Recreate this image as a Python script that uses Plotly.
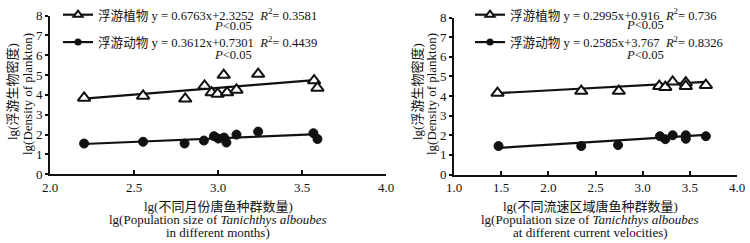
import plotly.graph_objects as go

# ---------------- data ----------------
# Left panel: different months
left_x_phyto = [2.203, 2.554, 2.805, 2.920, 2.962, 2.998, 3.034, 3.054, 3.110, 3.239, 3.572, 3.592]
left_y_phyto = [3.85, 3.95, 3.80, 4.45, 4.12, 4.05, 5.00, 4.12, 4.25, 5.05, 4.72, 4.35]
left_x_zoo = [2.203, 2.554, 2.801, 2.916, 2.976, 3.002, 3.036, 3.050, 3.110, 3.239, 3.568, 3.592]
left_y_zoo = [1.55, 1.64, 1.55, 1.70, 1.92, 1.80, 1.85, 1.60, 2.00, 2.15, 2.07, 1.78]
left_fit_phyto = [0.6763, 2.3252]   # slope, intercept
left_fit_zoo = [0.3612, 0.7301]

# Right panel: different current velocities
right_x_phyto = [1.461, 2.349, 2.747, 3.176, 3.240, 3.318, 3.457, 3.457, 3.670]
right_y_phyto = [4.15, 4.25, 4.25, 4.50, 4.45, 4.72, 4.68, 4.50, 4.55]
right_x_zoo = [1.472, 2.349, 2.739, 3.183, 3.240, 3.318, 3.457, 3.457, 3.670]
right_y_zoo = [1.45, 1.45, 1.50, 1.95, 1.80, 2.00, 2.00, 1.82, 1.95]
right_fit_phyto = [0.2585, 3.767]
right_fit_zoo = [0.2995, 0.916]

left_legend = ["浮游植物 y = 0.6763x+2.3252\u2002<i>R</i><sup>2</sup>= 0.3581",
               "浮游动物 y = 0.3612x+0.7301\u2002<i>R</i><sup>2</sup>= 0.4439"]
right_legend = ["浮游植物 y = 0.2995x+0.916\u2002<i>R</i><sup>2</sup>= 0.736",
                "浮游动物 y = 0.2585x+3.767\u2002<i>R</i><sup>2</sup>= 0.8326"]
p_text = "<i>P</i>&lt;0.05"

left_xticks = [2.0, 2.5, 3.0, 3.5, 4.0]
right_xticks = [1.0, 1.5, 2.0, 2.5, 3.0, 3.5, 4.0]
yticks = [0, 1, 2, 3, 4, 5, 6, 7, 8]

y_title = ["lg(浮游生物密度)", "lg(Density of plankton)"]
left_x_title = ["lg(不同月份唐鱼种群数量)",
                "lg(Population size of <i>Tanichthys alboubes</i>",
                "in different months)"]
right_x_title = ["lg(不同流速区域唐鱼种群数量)",
                 "lg(Population size of <i>Tanichthys alboubes</i>",
                 "at different current velocities)"]

# ---------------- figure ----------------
W, H = 750, 243
FONT = "Liberation Serif, Noto Sans CJK SC, serif"
INK = "#111111"

fig = go.Figure()


def fit_line(xs, coef):
    lo, hi = min(xs), max(xs)
    return [lo, hi], [coef[0] * lo + coef[1], coef[0] * hi + coef[1]]


def add_panel(xa, ya, xp, yp, xz, yz, fp, fz, names, legend):
    lx, ly = fit_line(xp, fp)
    fig.add_trace(go.Scatter(x=lx, y=ly, mode="lines", line=dict(color=INK, width=2.2),
                             xaxis=xa, yaxis=ya, showlegend=False))
    lx, ly = fit_line(xz, fz)
    fig.add_trace(go.Scatter(x=lx, y=ly, mode="lines", line=dict(color=INK, width=2.2),
                             xaxis=xa, yaxis=ya, showlegend=False))
    fig.add_trace(go.Scatter(x=xp, y=yp, mode="markers", xaxis=xa, yaxis=ya, showlegend=False,
                             marker=dict(symbol="triangle-up", size=11, color="white",
                                         line=dict(color=INK, width=2))))
    fig.add_trace(go.Scatter(x=xz, y=yz, mode="markers", xaxis=xa, yaxis=ya, showlegend=False,
                             marker=dict(symbol="circle", size=9, color=INK,
                                         line=dict(color=INK, width=1))))
    # legend-only entries
    fig.add_trace(go.Scatter(x=[None], y=[None], mode="lines+markers", name=names[0],
                             xaxis=xa, yaxis=ya, legend=legend, legendgroup=legend + "a",
                             line=dict(color=INK, width=2.2),
                             marker=dict(symbol="triangle-up", size=8, color="white",
                                         line=dict(color=INK, width=2))))
    fig.add_trace(go.Scatter(x=[None], y=[None], mode="lines+markers", name=names[1],
                             xaxis=xa, yaxis=ya, legend=legend, legendgroup=legend + "b",
                             line=dict(color=INK, width=2.2),
                             marker=dict(symbol="circle", size=7, color=INK)))


add_panel("x", "y", left_x_phyto, left_y_phyto, left_x_zoo, left_y_zoo,
          left_fit_phyto, left_fit_zoo, left_legend, "legend")
add_panel("x2", "y2", right_x_phyto, right_y_phyto, right_x_zoo, right_y_zoo,
          right_fit_phyto, right_fit_zoo, right_legend, "legend2")

axis_common = dict(showgrid=False, zeroline=False, showline=True, linecolor=INK, linewidth=2,
                   tickcolor=INK, tickwidth=2, ticks="outside", ticklen=3,
                   tickfont=dict(family=FONT, size=13, color=INK))

fig.update_layout(
    width=W, height=H,
    margin=dict(l=0, r=0, t=0, b=0, autoexpand=False),
    paper_bgcolor="white", plot_bgcolor="white",
    font=dict(family=FONT, size=13, color=INK),
    xaxis=dict(domain=[50 / W, 386 / W], range=[2, 4], tickvals=left_xticks,
               tickformat=".1f", anchor="y", **{**axis_common, "ticks": "inside", "ticklen": 4}),
    yaxis=dict(domain=[(H - 174.3) / H, (H - 15.5) / H], range=[0, 8], tickvals=yticks,
               anchor="x", **axis_common),
    xaxis2=dict(domain=[454 / W, 737 / W], range=[1, 4], tickvals=right_xticks,
                tickformat=".1f", anchor="y2", **{**axis_common, "ticks": "inside", "ticklen": 4}),
    yaxis2=dict(domain=[(H - 174.5) / H, (H - 17.5) / H], range=[0, 8], tickvals=yticks,
                anchor="x2", **axis_common),
    legend=dict(x=58 / W, y=1.0, xanchor="left", yanchor="top", bgcolor="rgba(0,0,0,0)",
                font=dict(family=FONT, size=12.6, color=INK), traceorder="grouped",
                tracegroupgap=8, itemwidth=30),
    legend2=dict(x=470 / W, y=1.0, xanchor="left", yanchor="top", bgcolor="rgba(0,0,0,0)",
                 font=dict(family=FONT, size=12.6, color=INK), traceorder="grouped",
                 tracegroupgap=8, itemwidth=30),
)

ann = []


def px_ann(text, x, y, angle=0, size=13):
    ann.append(dict(text=text, x=x / W, y=1 - y / H, xref="paper", yref="paper",
                    xanchor="center", yanchor="middle", showarrow=False, textangle=angle,
                    font=dict(family=FONT, size=size, color=INK)))


# P values
px_ann(p_text, 233, 26, size=12.6)
px_ann(p_text, 233, 55, size=12.6)
px_ann(p_text, 645, 25, size=12.6)
px_ann(p_text, 645, 55, size=12.6)
# y titles
px_ann(y_title[0], 12, 92, -90)
px_ann(y_title[1], 27, 94, -90)
px_ann(y_title[0], 417, 92, -90)
px_ann(y_title[1], 431, 94, -90)
# x titles
for i, t in enumerate(left_x_title):
    px_ann(t, 218, 206 + 13 * i)
for i, t in enumerate(right_x_title):
    px_ann(t, 590, 206 + 13 * i)

fig.update_layout(annotations=ann)
fig.write_html("out.html", config={"displayModeBar": False},
               post_script="document.body.style.margin='0';document.body.style.padding='0';")
